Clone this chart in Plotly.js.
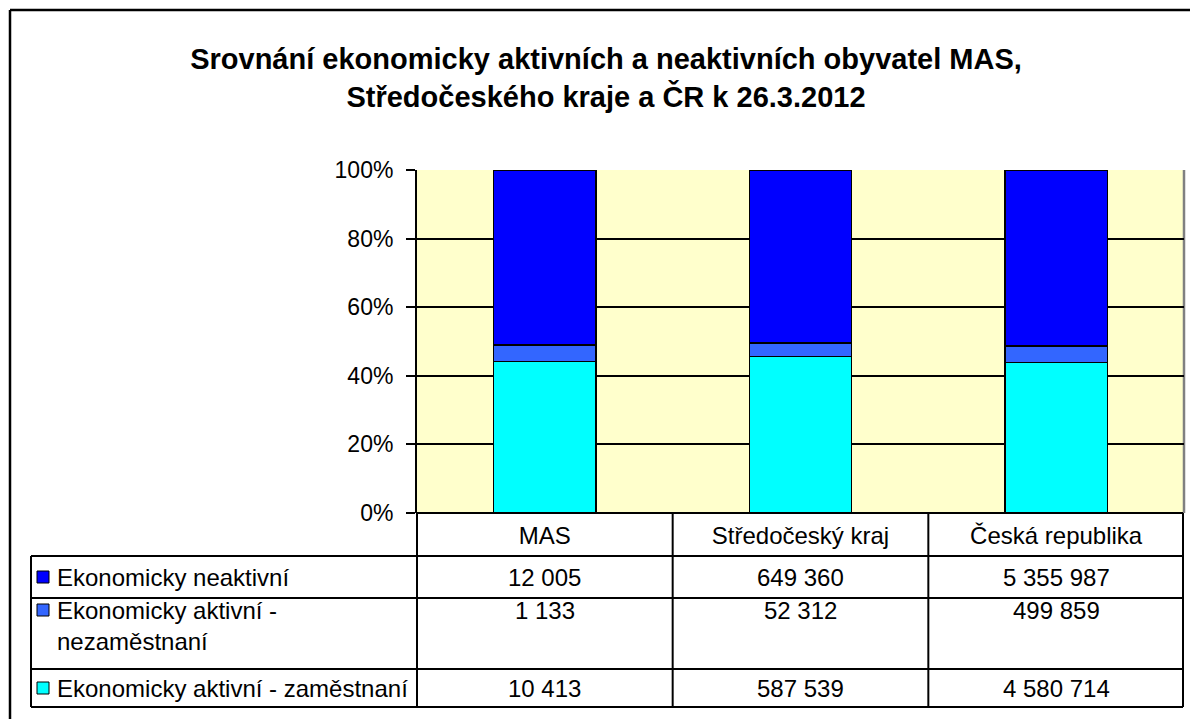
<!DOCTYPE html>
<html>
<head>
<meta charset="utf-8">
<script src="https://cdn.plot.ly/plotly-3.0.1.min.js"></script>
<style>
  html, body { margin: 0; padding: 0; background: #ffffff; }
  #chart { width: 1190px; height: 719px; }
</style>
</head>
<body>
<div id="chart"></div>
<script>
const categories = ['MAS', 'Středočeský kraj', 'Česká republika'];
const neaktivni = [12005, 649360, 5355987];
const nezamestnani = [1133, 52312, 499859];
const zamestnani = [10413, 587539, 4580714];
const tickVals = [0, 20, 40, 60, 80, 100];
const tickText = ['0%', '20%', '40%', '60%', '80%', '100%'];

// Rows of the table, top to bottom (label, values, colour)
const rows = [
  { label: 'Ekonomicky neaktivní', values: neaktivni, color: '#0000FF' },
  { label: 'Ekonomicky aktivní -<br>nezaměstnaní', values: nezamestnani, color: '#3366FF' },
  { label: 'Ekonomicky aktivní - zaměstnaní', values: zamestnani, color: '#00FFFF' }
];

const FONT = 'Arial, "Liberation Sans", sans-serif';
const TXT = 24;
const W = 1190, H = 719;
// plot area in pixels
const L = 417, R = 1184, T = 170, B = 513;
const px = X => (X - L) / (R - L);
const py = Y => (B - Y) / (B - T);

// format 12005 -> "12 005"
const fmt = n => String(n).replace(/\B(?=(\d{3})+(?!\d))/g, ' ');

// stacked bars, bottom segment first
const traces = [rows[2], rows[1], rows[0]].map(r => ({
  type: 'bar',
  x: categories,
  y: r.values,
  name: r.label.replace('<br>', ' '),
  width: 0.4,
  marker: { color: r.color, line: { color: '#000000', width: 1.5 } },
  hoverinfo: 'skip'
}));

const shapes = [];
const annotations = [];
const line = (x0, y0, x1, y1, color, width) => shapes.push({
  type: 'line', xref: 'paper', yref: 'paper',
  x0: px(x0), y0: py(y0), x1: px(x1), y1: py(y1),
  line: { color: color || '#000000', width: width || 2 }
});

// outer chart border: only top and left are inside the picture
line(10, 10, 1200, 10, '#000000', 2.5);
line(10, 10, 10, 730, '#000000', 2.5);

// grey plot frame on the right
shapes.push({ type: 'line', xref: 'x domain', yref: 'y', layer: 'below',
  x0: 1, x1: 1, y0: 0, y1: 100, line: { color: '#808080', width: 2.5 } });

// data table grid
const colX = [L, L + (R - L) / 3, L + 2 * (R - L) / 3, 1183];
const rowY = [513, 556, 598, 669, 707];
line(L, 513, 1183, 513);
rowY.slice(1).forEach(y => line(31, y, 1183, y));
colX.forEach(x => line(x, 513, x, 707));
line(31, 556, 31, 707);

// row labels, legend keys and values
const rowTextY = [577, 610, 688];
rows.forEach((r, i) => {
  const y = rowTextY[i];
  shapes.push({
    type: 'rect', xref: 'paper', yref: 'paper',
    x0: px(37), x1: px(49), y0: py(y - 6), y1: py(y + 6),
    fillcolor: r.color, line: { color: '#000000', width: 1 }
  });
  annotations.push({
    xref: 'paper', yref: 'paper', x: px(55), y: py(y),
    xanchor: 'left', yanchor: i === 1 ? 'top' : 'middle', yshift: i === 1 ? 15 : 0,
    align: 'left', text: r.label, showarrow: false,
    font: { family: FONT, size: TXT, color: '#000000' }
  });
  r.values.forEach((v, j) => annotations.push({
    xref: 'x', yref: 'paper', x: categories[j], y: py(y),
    xanchor: 'center', yanchor: 'middle',
    text: fmt(v), showarrow: false,
    font: { family: FONT, size: TXT, color: '#000000' }
  }));
});

const layout = {
  width: W, height: H,
  margin: { l: L, r: W - R, t: T, b: H - B, pad: 0 },
  paper_bgcolor: '#ffffff',
  plot_bgcolor: '#FFFFCC',
  barmode: 'stack',
  barnorm: 'percent',
  showlegend: false,
  font: { family: FONT, size: TXT, color: '#000000' },
  title: {
    text: '<b>Srovnání ekonomicky aktivních a neaktivních obyvatel MAS,<br>Středočeského kraje a ČR k 26.3.2012</b>',
    font: { family: FONT, size: 29, color: '#000000' },
    x: 606 / W, xref: 'container', xanchor: 'center',
    y: 1 - 69 / H, yref: 'container', yanchor: 'middle'
  },
  xaxis: {
    type: 'category',
    showgrid: false, zeroline: false, showline: false,
    ticks: '', ticklabelstandoff: 6,
    tickfont: { family: FONT, size: TXT, color: '#000000' }
  },
  yaxis: {
    range: [0, 100], fixedrange: true,
    tickvals: tickVals, ticktext: tickText,
    showgrid: true, gridcolor: '#000000', gridwidth: 2,
    zeroline: false,
    showline: true, linecolor: '#000000', linewidth: 2,
    ticks: 'outside', ticklen: 9, tickwidth: 2, tickcolor: '#000000',
    ticklabelstandoff: 8,
    tickfont: { family: FONT, size: 23, color: '#000000' }
  },
  shapes: shapes,
  annotations: annotations
};

Plotly.newPlot('chart', traces, layout, { staticPlot: true, displayModeBar: false });
</script>
</body>
</html>
